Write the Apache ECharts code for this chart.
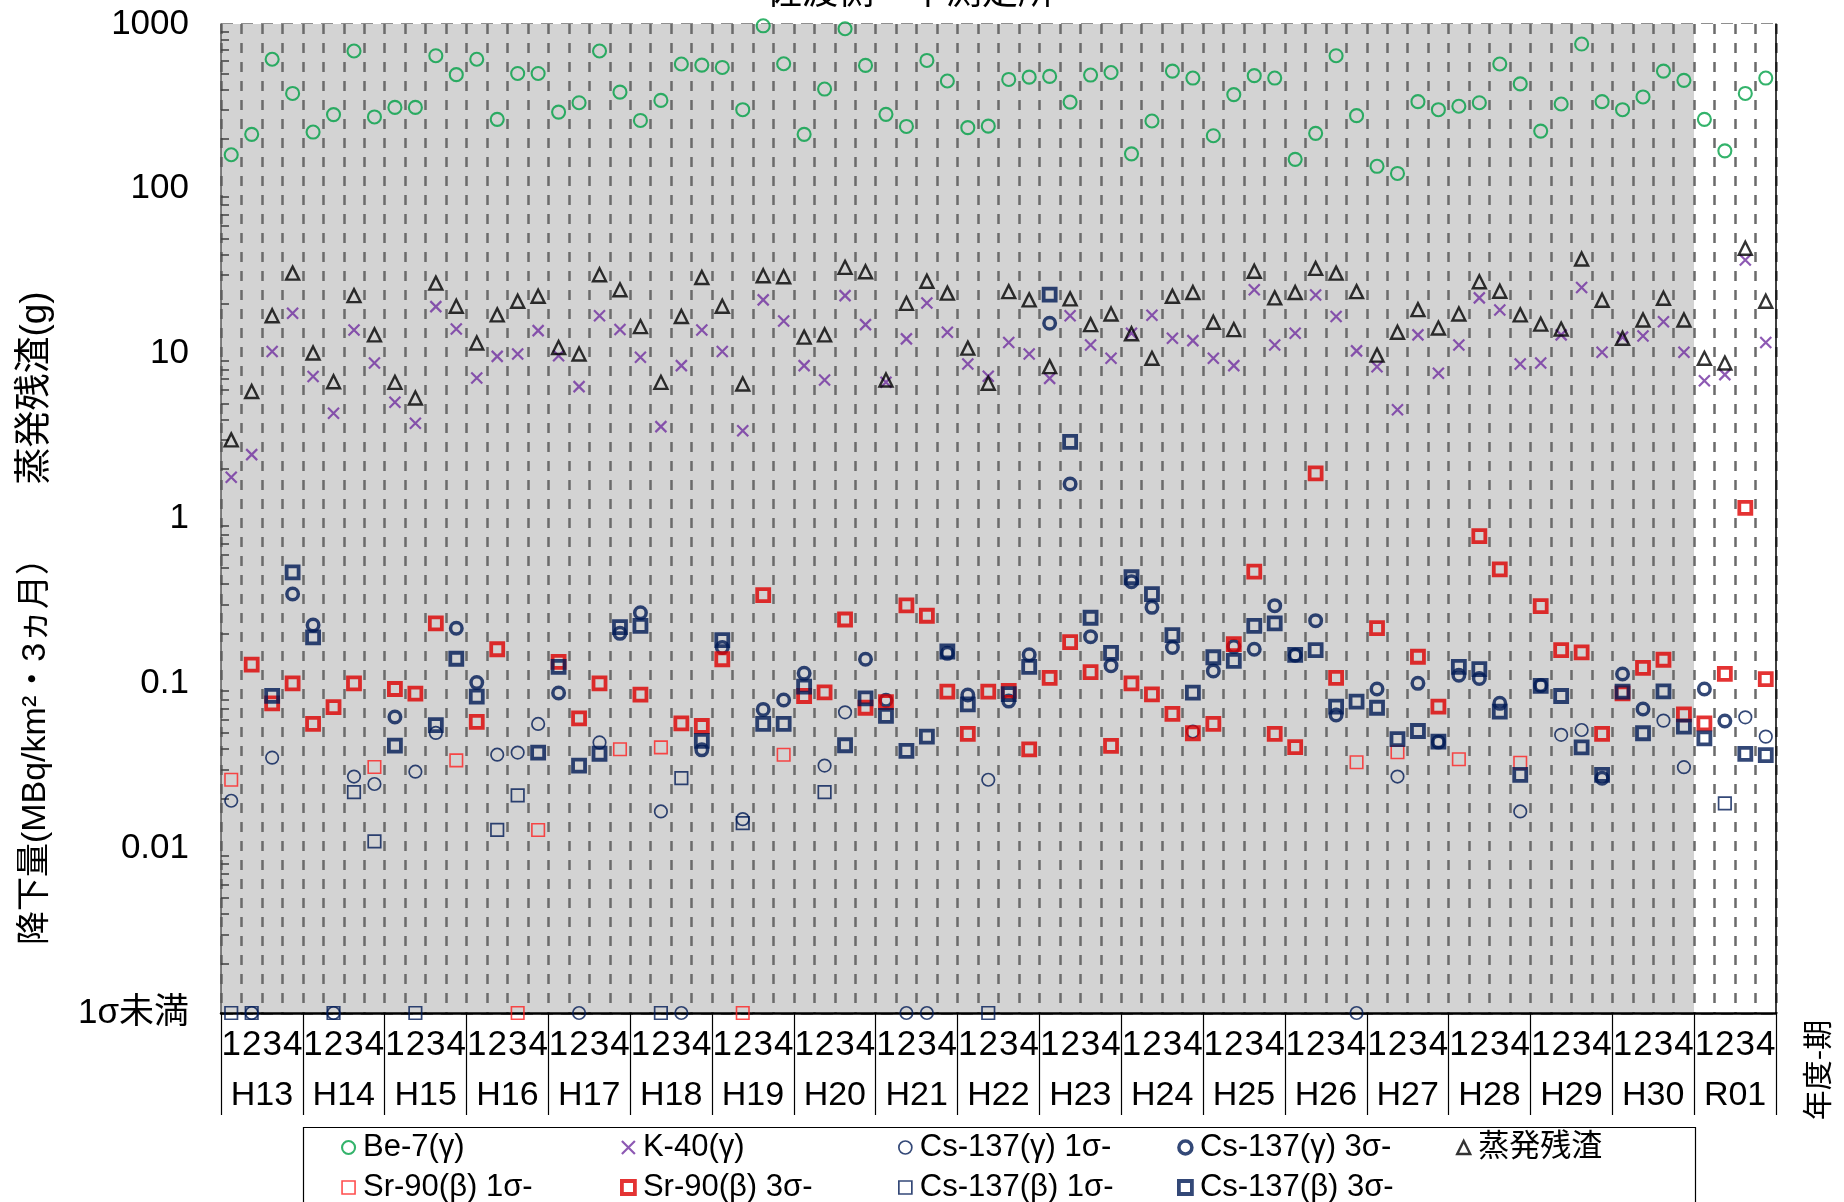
<!DOCTYPE html>
<html>
<head>
<meta charset="utf-8">
<script src="https://cdn.jsdelivr.net/npm/echarts@6/dist/echarts.min.js"></script>
<style>html,body{margin:0;padding:0;background:#fff}#c{width:1844px;height:1202px}</style>
</head>
<body>
<div id="c"></div>
<script>
// ---------------- data ----------------
const years = ['H13','H14','H15','H16','H17','H18','H19','H20','H21','H22','H23','H24','H25','H26','H27','H28','H29','H30','R01'];
const quarters = ['1','2','3','4'];
const whiteYears = ['R01'];
const yTickLabels = ['1σ未満','0.01','0.1','1','10','100','1000'];
const LT = '1σ未満'; // below 1σ: plotted on the "1σ未満" line

const be7 = [
 161,214,611,379, 221,282,686,273, 312,312,642,493, 611,264,501,501,
 292,333,686,386, 260,344,572,563, 545,302,975,574, 214,403,936,561,
 283,239,601,451, 235,240,461,476, 481,336,490,508, 163,258,518,470,
 210,373,486,470, 151,217,642,278, 137,124,338,302, 317,333,572,433,
 224,327,756,338, 302,361,518,455, 264,170,379,470
];
const k40 = [
 1.78,2.44,10.3,17.6, 7.26,4.35,13.9,8.78, 5.07,3.78,19.3,14.1, 7.11,9.63,9.95,13.8,
 9.72,6.31,17.0,14.0, 9.5,3.61,8.46,13.9, 10.3,3.41,21.2,15.8, 8.46,6.92,22.5,15.0,
 6.70,12.3,20.3,13.5, 8.65,7.29,11.7,9.95, 7.08,17.0,11.3,9.37, 13.3,17.1,12.4,12.0,
 9.37,8.46,24.4,11.3, 13.3,22.7,16.8,10.4, 8.34,4.57,13.0,7.60, 11.3,21.8,18.4,8.65,
 8.77,13.0,25.2,10.2, 12.6,12.8,15.6,10.2, 6.85,7.46,37.0,11.7
];
const residue = [
 3.0,5.9,17.0,30.8, 10.1,6.76,22.5,13.0, 6.70,5.38,26.8,19.4, 11.6,17.2,20.8,22.3,
 10.9,9.95,30.1,24.4, 14.6,6.7,16.8,29.0, 19.4,6.55,29.7,29.3, 12.6,13.0,33.4,31.4,
 6.92,20.2,27.5,23.3, 10.8,6.61,23.8,21.2, 8.34,21.5,15.0,17.4, 13.2,9.37,22.3,23.5,
 15.5,14.0,31.6,21.8, 23.5,32.9,30.8,23.8, 9.8,13.5,18.5,14.3, 17.4,27.3,23.9,17.2,
 15.1,14.1,37.5,21.1, 12.4,16.0,21.7,16.0, 9.37,8.77,43.6,20.8
];
const csGammaVal = [
 0.0194,LT,0.0354,0.348, 0.226,LT,0.0272,0.0245, 0.0625,0.0291,0.050,0.216, 0.101,0.0369,0.038,0.0567,
 0.0873,LT,0.0438,0.201, 0.268,0.0167,LT,0.0395, 0.165,0.0150,0.0695,0.0792, 0.115,0.0317,0.0667,0.140,
 0.079,LT,LT,0.152, 0.085,0.026,0.078,0.149, 15.3,1.62,0.192,0.128, 0.414,0.289,0.165,0.051,
 0.119,0.167,0.161,0.296, 0.148,0.240,0.0643,LT, 0.0924,0.0272,0.100,0.044, 0.112,0.107,0.0756,0.0167,
 0.097,0.0487,0.0521,0.0266, 0.114,0.0698,0.0594,0.031, 0.0924,0.0591,0.0622,0.0475
];
const csGammaSigma = [
 1,1,1,3, 3,1,1,1, 3,1,1,3, 3,1,1,1, 3,1,1,3, 3,1,1,3, 3,1,3,3, 3,1,1,3,
 3,1,1,3, 3,1,3,3, 3,3,3,3, 3,3,3,1, 3,3,3,3, 3,3,3,1, 3,1,3,3, 3,3,3,1,
 3,1,1,3, 3,3,1,1, 3,3,1,1
];
const srVal = [
 0.026,0.130,0.0756,0.100, 0.0567,0.0718,0.100,0.0311, 0.0924,0.0866,0.231,0.0341, 0.0583,0.161,LT,0.0129,
 0.135,0.0613,0.100,0.0398, 0.0854,0.0409,0.0572,0.0551, 0.140,LT,0.343,0.0369, 0.0838,0.0882,0.244,0.0711,
 0.077,0.297,0.257,0.089, 0.0493,0.089,0.090,0.0398, 0.108,0.178,0.117,0.0417, 0.100,0.0858,0.0652,0.0498,
 0.0567,0.173,0.476,0.0493, 0.041,1.88,0.108,0.0332, 0.216,0.0382,0.145,0.0722, 0.0346,0.781,0.491,0.033,
 0.294,0.159,0.154,0.0493, 0.087,0.124,0.139,0.0648, 0.0572,0.114,1.16,0.106
];
const srSigma = [
 1,3,3,3, 3,3,3,1, 3,3,3,1, 3,3,1,1, 3,3,3,1, 3,1,3,3, 3,1,3,1, 3,3,3,3,
 3,3,3,3, 3,3,3,3, 3,3,3,3, 3,3,3,3, 3,3,3,3, 3,3,3,1, 3,1,3,3, 1,3,3,1,
 3,3,3,3, 3,3,3,3, 3,3,3,3
];
const csBetaVal = [
 LT,LT,0.084,0.471, 0.190,LT,0.0219,0.011, 0.0419,LT,0.0558,0.141, 0.083,0.0129,0.0209,0.038,
 0.126,0.0317,0.0374,0.219, 0.223,LT,0.0266,0.0447, 0.183,0.0142,0.0567,0.0567, 0.0954,0.0219,0.0421,0.0811,
 0.0634,0.0389,0.0475,0.156, 0.0746,LT,0.086,0.126, 22.8,2.92,0.250,0.153, 0.440,0.348,0.196,0.0878,
 0.144,0.137,0.223,0.231, 0.149,0.159,0.0722,0.0774, 0.0711,0.0459,0.0514,0.0443, 0.126,0.122,0.0673,0.0278,
 0.0964,0.0838,0.0409,0.0278, 0.089,0.0498,0.0894,0.0546, 0.0464,0.0187,0.0373,0.0367
];
const csBetaSigma = [
 1,1,3,3, 3,1,1,1, 3,1,3,3, 3,1,1,3, 3,3,3,3, 3,1,1,3, 3,1,3,3, 3,1,3,3,
 3,3,3,3, 3,1,3,3, 3,3,3,3, 3,3,3,3, 3,3,3,3, 3,3,3,3, 3,3,3,3, 3,3,3,3,
 3,3,3,3, 3,3,3,3, 3,1,3,3
];

// ---------------- build ----------------
const Y_MIN = 0.001, Y_MAX = 1000;
const FONT = "'Liberation Sans','Noto Sans CJK JP',sans-serif";
const categories = years.flatMap(y => quarters.map(q => y + '-' + q));
const bgColors = categories.map(c => whiteYears.includes(c.split('-')[0]) ? '#ffffff' : '#d3d3d3');
const pick = (vals, sig, want) => vals.map((v, i) => sig[i] === want ? (v === LT ? Y_MIN : v) : null);

const minorTicks = [];
for (let e = -3; e < 3; e++) for (let m = 2; m <= 9; m++) minorTicks.push(+(m * Math.pow(10, e)).toPrecision(3));

const GREEN = '#00a046', PURPLE = '#7030a0', NAVY = '#001a55', RED = '#dd0000', RED_THIN = '#ff2020';
const CROSS = 'path://M0,0L10,10M10,0L0,10';

function sc(name, data, symbol, size, color, bw) {
  return {
    name, type: 'scatter', data, symbol, symbolSize: size, clip: false,
    xAxisIndex: 0, yAxisIndex: 0,
    itemStyle: { color: 'transparent', borderColor: color, borderWidth: bw },
    emphasis: { disabled: true }
  };
}

const series = [
  sc('Be-7(γ)', be7, 'circle', 13, GREEN, 2.1),
  sc('K-40(γ)', k40, CROSS, 11, PURPLE, 2.2),
  sc('Cs-137(γ) 1σ-', pick(csGammaVal, csGammaSigma, 1), 'circle', 12.5, NAVY, 1.7),
  sc('Cs-137(γ) 3σ-', pick(csGammaVal, csGammaSigma, 3), 'circle', 11.5, NAVY, 3.5),
  sc('蒸発残渣', residue, 'triangle', 13, '#000', 2.4),
  sc('Sr-90(β) 1σ-', pick(srVal, srSigma, 1), 'rect', 12.5, RED_THIN, 1.6),
  sc('Sr-90(β) 3σ-', pick(srVal, srSigma, 3), 'rect', 12, RED, 3.8),
  sc('Cs-137(β) 1σ-', pick(csBetaVal, csBetaSigma, 1), 'rect', 12.5, NAVY, 1.7),
  sc('Cs-137(β) 3σ-', pick(csBetaVal, csBetaSigma, 3), 'rect', 12, NAVY, 3.8)
];

const legendCols = [
  ['Be-7(γ)', 'Sr-90(β) 1σ-'],
  ['K-40(γ)', 'Sr-90(β) 3σ-'],
  ['Cs-137(γ) 1σ-', 'Cs-137(β) 1σ-'],
  ['Cs-137(γ) 3σ-', 'Cs-137(β) 3σ-'],
  ['蒸発残渣']
];
const legendLeft = [341, 620, 898, 1177, 1456];
const legends = legendCols.map((d, i) => ({
  data: d, orient: 'vertical', left: legendLeft[i], top: 1132, width: 270, height: 90, padding: 0,
  itemWidth: 13, itemHeight: 13, itemGap: 9, selectedMode: false,
  itemStyle: { borderWidth: 'inherit' },
  textStyle: { fontSize: 31, lineHeight: 30, color: '#000', fontFamily: FONT, padding: [0, 0, 0, 3] }
}));

const option = {
  animation: false,
  backgroundColor: '#ffffff',
  grid: { left: 221, right: 68, top: 24, bottom: 189, outerBoundsMode: 'none' },
  xAxis: [
    {
      type: 'category', data: categories, position: 'bottom', boundaryGap: true,
      axisLine: { show: true, onZero: false, lineStyle: { color: '#000', width: 2.5 } },
      axisTick: { show: false },
      axisLabel: { interval: 0, margin: 15, fontSize: 35, color: '#000', fontFamily: FONT,
                   formatter: v => v.split('-')[1] },
      splitLine: { show: true, interval: 0, lineStyle: { color: '#6b6b6b', width: 2.5, type: [10, 9] } },
      splitArea: { show: true, interval: 0, areaStyle: { color: bgColors } }
    },
    {
      type: 'category', data: years, position: 'bottom', boundaryGap: true,
      axisLine: { show: false },
      axisTick: { show: true, interval: 0, length: 102, lineStyle: { color: '#000', width: 1.2 } },
      axisLabel: { interval: 0, margin: 66, fontSize: 34, color: '#000', fontFamily: FONT },
      splitLine: { show: false }, splitArea: { show: false }
    }
  ],
  yAxis: [
    {
      type: 'log', logBase: 10, min: Y_MIN, max: Y_MAX, position: 'left',
      axisLine: { show: true, onZero: false, lineStyle: { color: '#595959', width: 1.5 } },
      axisTick: { show: false },
      axisLabel: { margin: 32, fontSize: 35, color: '#000', fontFamily: FONT,
                   formatter: v => yTickLabels[Math.round(Math.log10(v)) + 3] },
      splitLine: { show: true, lineStyle: { color: '#6b6b6b', width: 2.5, type: [12, 8] } }
    },
    {
      type: 'log', logBase: 10, min: Y_MIN, max: Y_MAX, position: 'left',
      axisLine: { show: false }, axisLabel: { show: false }, splitLine: { show: false },
      axisTick: { show: true, inside: true, length: 8, customValues: minorTicks,
                  lineStyle: { color: '#404040', width: 1.5 } }
    },
    {
      type: 'log', logBase: 10, min: Y_MIN, max: Y_MAX, position: 'right',
      axisLine: { show: true, lineStyle: { color: '#000', width: 1.5 } },
      axisTick: { show: false }, axisLabel: { show: false }, splitLine: { show: false }
    }
  ],
  legend: legends,
  series,
  graphic: [
    { type: 'rect', shape: { x: 303.5, y: 1127.5, width: 1392, height: 120 },
      style: { fill: 'none', stroke: '#000', lineWidth: 1.2 }, silent: true },
    { type: 'text', x: 910, y: 8, silent: true,
      style: { text: '佐渡側・中測定所', font: "36px 'Noto Sans CJK JP'", fill: '#000',
               textAlign: 'center', textVerticalAlign: 'bottom' } },
    { type: 'text', x: 36, y: 388, rotation: Math.PI / 2, silent: true,
      style: { text: '蒸発残渣(g)', font: "37px 'Liberation Sans','Noto Sans CJK JP'", fill: '#000',
               textAlign: 'center', textVerticalAlign: 'middle' } },
    { type: 'text', x: 36, y: 743, rotation: Math.PI / 2, silent: true,
      style: { text: '降下量(MBq/km²・3ヵ月）', font: "34px 'Liberation Sans','Noto Sans CJK JP'", fill: '#000',
               textAlign: 'center', textVerticalAlign: 'middle' } },
    { type: 'text', x: 1817, y: 1070, rotation: Math.PI / 2, silent: true,
      style: { text: '年度-期', font: "30px 'Noto Sans CJK JP'", fill: '#000',
               textAlign: 'center', textVerticalAlign: 'middle' } }
  ]
};

const chart = echarts.init(document.getElementById('c'), null, { renderer: 'canvas', width: 1844, height: 1202 });
chart.setOption(option);
</script>
</body>
</html>
